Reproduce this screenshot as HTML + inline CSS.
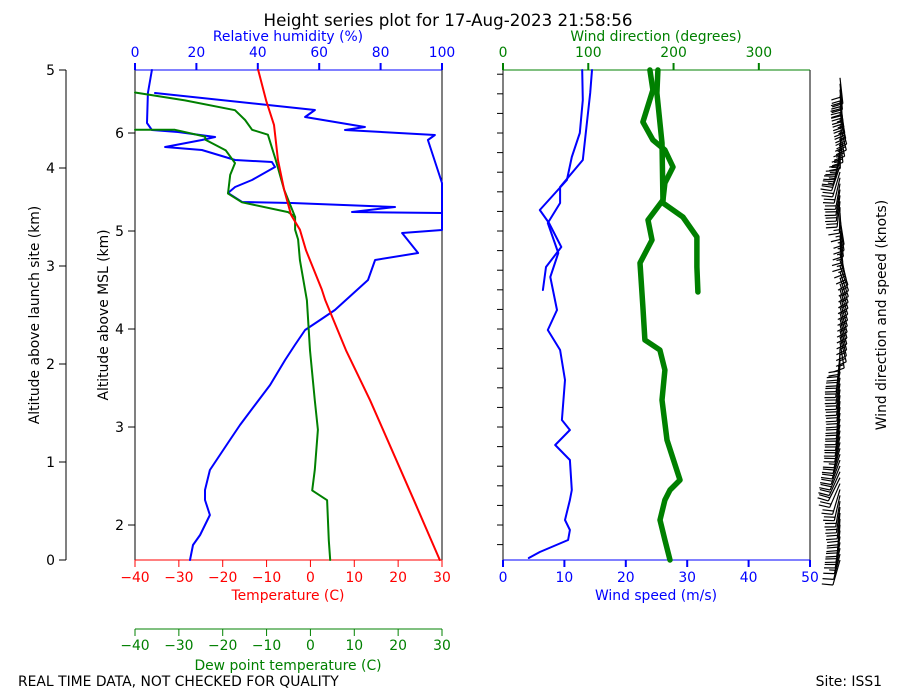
<!DOCTYPE html>
<html><head><meta charset="utf-8"><style>
html,body{margin:0;padding:0;background:#fff}
svg{display:block;font-family:"DejaVu Sans","Liberation Sans",sans-serif}
</style></head><body>
<svg id="c" width="900" height="700" viewBox="0 0 900 700"></svg>
<script>
// ---- data ----
const tempAlt=[0,.61,1.12,1.63,2.14,2.65,2.76,3.16,3.37,3.52,3.78,4.08,4.44,4.69,5.0];
const tempVal=[29.5,23.6,18.6,13.6,8.1,3.4,2.6,-1.0,-2.4,-4.4,-6.0,-7.4,-8.3,-10.1,-11.9];
const dew1Alt=[0,.20,.61,.71,.92,1.33,1.63,2.14,2.65,3.06,3.27,3.37,3.50,3.55,3.65,3.74,3.93,4.05,4.18,4.29,4.32,4.39,4.39];
const dew1Val=[4.5,4.2,3.8,0.4,1.0,1.7,1.0,-0.1,-0.8,-2.4,-2.8,-3.5,-3.5,-5.1,-15.6,-18.8,-18.3,-17.2,-19.3,-24.0,-24.0,-30.9,-40];
const dew2Alt=[4.77,4.69,4.59,4.49,4.39,4.34,4.08,3.78,3.50];
const dew2Val=[-40,-28.6,-17.2,-14.9,-13.3,-9.7,-7.9,-6.0,-3.5];
const rh1Alt=[0,.153,.255,.459,.612,.714,.918,1.224,1.378,1.582,1.786,2.041,2.194,2.347,2.449,2.551,2.857,3.061,3.133,3.337,3.367,3.541,3.551,3.602,3.643,3.653,3.745,3.806,3.878,4.010,4.061,4.082,4.184,4.214,4.286,4.316,4.367,4.388,4.459,4.765,5];
const rh1Val=[17.9,18.9,21.2,24.4,22.8,22.8,24.4,30.9,34.2,39.1,44.0,48.9,52.1,55.4,60.3,65.1,75.9,78.2,92.2,87.0,100,100,70.7,84.7,51.1,34.9,30.3,32.6,38.1,45.6,44.6,32.6,21.8,9.8,21.8,26.1,14.0,5.5,3.9,4.2,5.5];
const rh2Alt=[4.765,4.592,4.520,4.418,4.388,4.337,4.286,3.847,3.541];
const rh2Val=[6.5,58.6,55.4,74.9,68.4,97.7,95.4,100,100];
const wsAAlt=[5,4.694,4.357,4.112,3.878,3.571,3.439,3.194,2.990,2.755];
const wsAVal=[12.9,13.0,12.5,11.2,10.4,6.0,7.5,9.5,7.0,6.5];
const wsBAlt=[5,4.765,4.082,3.806,3.643,3.439,3.133,2.888,2.551,2.347,2.143,1.837,1.429,1.327,1.224,1.173,1.020,.714,.612,.408,.306,.204,.082,.020];
const wsBVal=[14.5,14.2,13.0,9.3,9.3,7.3,9.0,7.7,8.8,7.3,9.3,10.1,9.6,10.9,9.3,8.5,10.9,11.2,10.9,10.1,10.9,10.6,6.0,4.2];
const wdAAlt=[5,4.796,4.469,4.286,4.184,4.010,3.847,3.673,3.469,3.265,3.031,2.582,2.245,2.143,1.939,1.633,1.224,.816,.714,.612,.408,.204,0];
const wdAVal=[172.3,175.8,164.1,175.8,189.9,199.3,189.9,187.6,170.0,174.7,160.6,164.1,166.4,184.0,189.9,186.4,192.3,207.5,195.8,189.9,184.1,189.9,195.8];
const wdBAlt=[5,4.765,4.255,3.643,3.500,3.296,2.990,2.735];
const wdBVal=[181.7,180.5,186.4,187.6,211.0,227.4,227.4,228.6];
const aglTicks=[0,1,2,3,4,5];
const mslTicks=[2,3,4,5,6];
const mslOffset=1.643;
const tempTicks=[-40,-30,-20,-10,0,10,20,30];
const rhTicks=[0,20,40,60,80,100];
const wsTicks=[0,10,20,30,40,50];
const wdTicks=[0,100,200,300];

// ---- scales ----
const Y0=560,Y1=70;
const y=a=>Y0-(a/5)*(Y0-Y1);
const xT=t=>135+(t+40)/70*307;
const xRH=r=>135+r/100*307;
const xWS=s=>503+s/50*307;
const xWD=d=>503+d/360*307;
const svg=document.getElementById('c');
const NS='http://www.w3.org/2000/svg';
const FS=13.9;
function mk(tag,attrs,parent){const e=document.createElementNS(NS,tag);for(const k in attrs)e.setAttribute(k,attrs[k]);(parent||svg).appendChild(e);return e;}
function txt(s,x,yy,opt){const e=mk('text',Object.assign({x:x,y:yy,'font-size':FS,fill:'#000'},opt||{}));e.textContent=s;return e;}
function line(x1,y1,x2,y2,c,w){return mk('line',{x1,y1,x2,y2,stroke:c,'stroke-width':w||1});}
function series(alts,vals,fx,color,w,name){
  const pts=alts.map((a,i)=>fx(vals[i]).toFixed(1)+','+y(a).toFixed(1)).join(' ');
  const p=mk('polyline',{points:pts,fill:'none',stroke:color,'stroke-width':w,'stroke-linejoin':'round','stroke-linecap':'round'});
  
  
}
function interp(alts,vals,a){
  for(let i=0;i<alts.length-1;i++){const a0=alts[i],a1=alts[i+1];if((a>=Math.min(a0,a1))&&(a<=Math.max(a0,a1))){const t=a1===a0?0:(a-a0)/(a1-a0);return vals[i]+t*(vals[i+1]-vals[i]);}}
  return vals[vals.length-1];
}

txt('Height series plot for 17-Aug-2023 21:58:56',448,26,{'font-size':16.7,'text-anchor':'middle'});
txt('REAL TIME DATA, NOT CHECKED FOR QUALITY',18,686);
txt('Site: ISS1',882,686,{'text-anchor':'end'});

line(66,70,66,560,'#000');
aglTicks.forEach(v=>{line(59,y(v),66,y(v),'#000');txt(String(v),55,y(v)+5,{'text-anchor':'end'});});
txt('Altitude above launch site (km)',0,0,{'text-anchor':'middle',transform:'translate(39,315) rotate(-90)'});
mslTicks.forEach(v=>{const yy=y(v-mslOffset);line(128,yy,135,yy,'#000');txt(String(v),124,yy+5,{'text-anchor':'end'});});
txt('Altitude above MSL (km)',0,0,{'text-anchor':'middle',transform:'translate(108,315) rotate(-90)'});

line(135,70,135,560,'#000');line(442,70,442,560,'#000');
line(135,70,442,70,'blue');line(135,560,442,560,'red');
tempTicks.forEach(v=>{line(xT(v),560,xT(v),567,'red');txt(String(v).replace('-','−'),xT(v),582,{'text-anchor':'middle',fill:'red'});});
txt('Temperature (C)',288,600,{'text-anchor':'middle',fill:'red'});
rhTicks.forEach(v=>{line(xRH(v),63,xRH(v),70,'blue',2);txt(String(v),xRH(v),57,{'text-anchor':'middle',fill:'blue'});});
txt('Relative humidity (%)',288,41,{'text-anchor':'middle',fill:'blue'});
line(135,629,442,629,'green');
tempTicks.forEach(v=>{line(xT(v),629,xT(v),636,'green');txt(String(v).replace('-','−'),xT(v),650,{'text-anchor':'middle',fill:'green'});});
txt('Dew point temperature (C)',288,670,{'text-anchor':'middle',fill:'green'});

series(rh1Alt,rh1Val,xRH,'blue',2,'rh-line');
series(rh2Alt,rh2Val,xRH,'blue',2,'rh-line-2');
series(dew1Alt,dew1Val,xT,'green',2,'dewpoint-line');
series(dew2Alt,dew2Val,xT,'green',2,'dewpoint-line-2');
series(tempAlt,tempVal,xT,'red',2,'temperature-line');

line(503,70,503,560,'#000');line(810,70,810,560,'#000');
line(503,70,810,70,'green');line(503,560,810,560,'blue');
for(let m=1.8;m<=6.7;m+=0.2){const yy=y(m-mslOffset);if(yy>=69&&yy<=561)line(497,yy,503,yy,'#000');}
wsTicks.forEach(v=>{line(xWS(v),560,xWS(v),567,'blue',2);txt(String(v),xWS(v),582,{'text-anchor':'middle',fill:'blue'});});
txt('Wind speed (m/s)',656,600,{'text-anchor':'middle',fill:'blue'});
wdTicks.forEach(v=>{line(xWD(v),63,xWD(v),70,'green',2);txt(String(v),xWD(v),57,{'text-anchor':'middle',fill:'green'});});
txt('Wind direction (degrees)',656,41,{'text-anchor':'middle',fill:'green'});

series(wdAAlt,wdAVal,xWD,'green',5.5,'wind-direction-line');
series(wdBAlt,wdBVal,xWD,'green',5.5,'wind-direction-line-2');
series(wsAAlt,wsAVal,xWS,'blue',2,'wind-speed-line');
series(wsBAlt,wsBVal,xWS,'blue',2,'wind-speed-line-2');

txt('Wind direction and speed (knots)',0,0,{'text-anchor':'middle',transform:'translate(886,315) rotate(-90)'});
const g=mk('g',{stroke:'#000','stroke-width':1.2,fill:'none'});


for(let a=0.0;a<=4.92;a+=0.06){
  const d=interp(wdAAlt,wdAVal,a)*Math.PI/180;
  let kt=interp(wsBAlt,wsBVal,a)*1.944;
  const ax=840,ay=y(a);
  const ux=Math.sin(d),uy=-Math.cos(d);
  const L=26;const tx=ax+ux*L,ty=ay+uy*L;
  mk('line',{x1:ax,y1:ay,x2:tx,y2:ty},g);
  const px=-uy,py=ux;
  let pos=0;
  kt=Math.round(kt/5)*5;
  while(kt>=50){const bx=tx-ux*pos,by=ty-uy*pos;mk('polygon',{points:`${bx},${by} ${bx+px*10+ux*-3},${by+py*10+uy*-3} ${bx-ux*6},${by-uy*6}`,fill:'#000'},g);pos+=8;kt-=50;}
  while(kt>=10){const bx=tx-ux*pos,by=ty-uy*pos;mk('line',{x1:bx,y1:by,x2:bx+px*11+ux*2,y2:by+py*11+uy*2},g);pos+=3.5;kt-=10;}
  if(kt>=5){const bx=tx-ux*pos,by=ty-uy*pos;mk('line',{x1:bx,y1:by,x2:bx+px*6+ux*1,y2:by+py*6+uy*1},g);}
}
</script>
</body></html>
